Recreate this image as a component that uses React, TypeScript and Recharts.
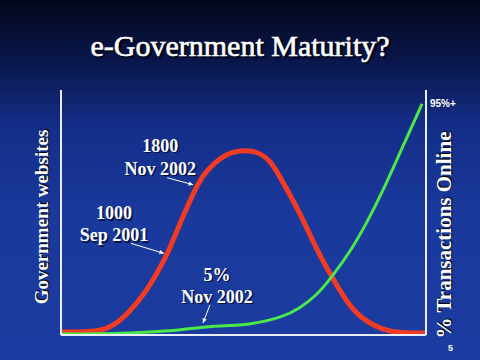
import React from "react";
import { LineChart, Line, XAxis, YAxis, ReferenceDot } from "recharts";

// time runs left to right on an unlabelled 0..100 scale
const redT = [0, 7.9, 13.4, 18.9, 23.6, 26.3, 29.3, 32.6, 35.1, 37.3, 40, 43.6, 46.8, 50.4, 54, 57.3, 60.5, 65.5, 70.1, 74.2, 78.4, 82.7, 88.2, 92.9, 100];
const redSites = [37, 37, 73, 282, 551, 759, 1000, 1371, 1616, 1840, 2020, 2167, 2241, 2265, 2241, 2143, 1898, 1494, 1041, 710, 392, 184, 61, 24, 24];

const greenT = [0, 10.7, 18.9, 27.1, 32.6, 38.9, 46.3, 51.8, 60.8, 65.5, 70.1, 74.2, 79.2, 83.8, 89.6, 94.2, 98.9];
const greenPct = [0.4, 0.4, 0.8, 1.4, 2.0, 3.3, 3.9, 4.3, 7.3, 11.0, 16.3, 23.7, 33.9, 45.7, 63.3, 78.8, 94.3];

const sitesNote1 = ["1000", "Sep 2001"];
const sitesNote2 = ["1800", "Nov 2002"];
const pctNote = ["5%", "Nov 2002"];
const topLabel = "95%+";

const redData = redT.map((t, i) => ({ t, v: redSites[i] }));
const greenData = greenT.map((t, i) => ({ t, v: greenPct[i] }));

const serif = "'Liberation Serif', 'DejaVu Serif', serif";
const axisStyle = { stroke: "#e8eeff", strokeWidth: 2 };

const Arrow = ({ x1, y1, x2, y2 }: any) => {
  const a = Math.atan2(y2 - y1, x2 - x1);
  const h = 5;
  const p1 = [x2 - h * Math.cos(a - 0.45), y2 - h * Math.sin(a - 0.45)];
  const p2 = [x2 - h * Math.cos(a + 0.45), y2 - h * Math.sin(a + 0.45)];
  return (
    <g>
      <line x1={x1} y1={y1} x2={x2} y2={y2} stroke="#fff" strokeWidth={1} />
      <polygon points={`${x2},${y2} ${p1[0]},${p1[1]} ${p2[0]},${p2[1]}`} fill="#fff" />
    </g>
  );
};

const Note = ({ cx, cy, lines, text, tail, tip, gap }: any) => (
  <g>
    <Arrow x1={cx + tail[0]} y1={cy + tail[1]} x2={cx + tip[0]} y2={cy + tip[1]} />
    {lines.map((s: string, i: number) => (
      <g key={i} fontFamily={serif} fontWeight="bold" fontSize={18} textAnchor="middle">
        <text x={cx + text[0] + 1.5} y={cy + text[1] + i * gap + 1.5} fill="#000a30" opacity={0.8}>
          {s}
        </text>
        <text x={cx + text[0]} y={cy + text[1] + i * gap} fill="#fff">
          {s}
        </text>
      </g>
    ))}
  </g>
);

export default function App() {
  return (
    <div
      style={{
        position: "absolute",
        left: 0,
        top: 0,
        width: 480,
        height: 360,
        overflow: "hidden",
        background:
          "linear-gradient(180deg, #03061a 0%, #0a1850 18%, #142e88 35%, #1a399c 60%, #1b3ba0 100%)",
      }}
    >
      <div
        style={{
          position: "absolute",
          left: 0,
          top: 29,
          width: 480,
          textAlign: "center",
          color: "#fff",
          fontFamily: serif,
          fontSize: 30,
          lineHeight: "34px",
          WebkitTextStroke: "0.6px #fff",
          textShadow: "2px 2px 2px #000",
        }}
      >
        e-Government Maturity?
      </div>
      <div
        style={{
          position: "absolute",
          left: 42 - 110,
          top: 217 - 12,
          width: 220,
          textAlign: "center",
          transform: "rotate(-90deg)",
          color: "#fff",
          fontFamily: serif,
          fontWeight: "bold",
          fontSize: 19,
          lineHeight: "24px",
          textShadow: "1px 1px 1px #000",
        }}
      >
        Government websites
      </div>
      <div
        style={{
          position: "absolute",
          left: 444 - 120,
          top: 235 - 12,
          width: 240,
          textAlign: "center",
          transform: "rotate(-90deg)",
          color: "#fff",
          fontFamily: serif,
          fontWeight: "bold",
          fontSize: 21,
          lineHeight: "24px",
          textShadow: "1px 1px 1px #000",
        }}
      >
        % Transactions Online
      </div>
      <div
        style={{
          position: "absolute",
          left: 448,
          top: 343,
          color: "#fff",
          fontFamily: "'Liberation Sans', sans-serif",
          fontWeight: "bold",
          fontSize: 9,
        }}
      >
        5
      </div>
      <div style={{ position: "absolute", left: 0, top: 0 }}>
        <LineChart width={480} height={360} margin={{ top: 90, right: 53, bottom: 24, left: 60 }}>
          <XAxis
            type="number"
            dataKey="t"
            domain={[0, 100]}
            tick={false}
            tickLine={false}
            height={1}
            axisLine={axisStyle}
          />
          <YAxis yAxisId="sites" domain={[0, 3000]} width={1} tick={false} tickLine={false} axisLine={axisStyle} />
          <YAxis
            yAxisId="pct"
            orientation="right"
            domain={[0, 100]}
            width={1}
            tick={false}
            tickLine={false}
            axisLine={axisStyle}
          />
          <Line
            yAxisId="sites"
            data={redData}
            dataKey="v"
            type="basis"
            stroke="#f23b22"
            strokeWidth={5}
            dot={false}
            isAnimationActive={false}
          />
          <Line
            yAxisId="pct"
            data={greenData}
            dataKey="v"
            type="basis"
            stroke="#4be84a"
            strokeWidth={3}
            dot={false}
            isAnimationActive={false}
          />
          <ReferenceDot
            yAxisId="sites"
            x={redT[6]}
            y={redSites[6]}
            shape={(p: any) => (
              <Note cx={p.cx} cy={p.cy} lines={sitesNote1} text={[-54, -34]} tail={[-37, -10]} tip={[-4, 0]} gap={22} />
            )}
          />
          <ReferenceDot
            yAxisId="sites"
            x={redT[9]}
            y={redSites[9]}
            shape={(p: any) => (
              <Note cx={p.cx} cy={p.cy} lines={sitesNote2} text={[-37, -33]} tail={[-30, -7]} tip={[-4, 0]} gap={23} />
            )}
          />
          <ReferenceDot
            yAxisId="pct"
            x={greenT[5]}
            y={greenPct[5]}
            shape={(p: any) => (
              <Note cx={p.cx} cy={p.cy} lines={pctNote} text={[14, -46]} tail={[7, -22]} tip={[0, -4]} gap={22} />
            )}
          />
          <ReferenceDot
            yAxisId="pct"
            x={greenT[16]}
            y={greenPct[16]}
            shape={(p: any) => (
              <text
                x={p.cx + 8}
                y={p.cy + 3}
                fill="#fff"
                fontFamily="'Liberation Sans', sans-serif"
                fontWeight="bold"
                fontSize={10}
              >
                {topLabel}
              </text>
            )}
          />
        </LineChart>
      </div>
    </div>
  );
}
